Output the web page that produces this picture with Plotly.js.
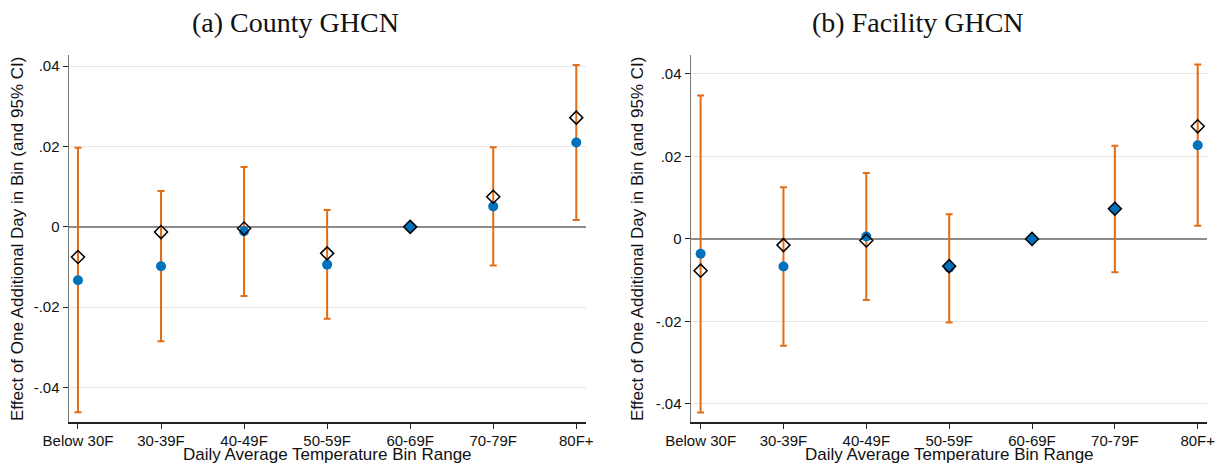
<!DOCTYPE html>
<html>
<head>
<meta charset="utf-8">
<script src="https://cdn.plot.ly/plotly-3.0.1.min.js"></script>
<style>html,body{margin:0;padding:0;background:#fff;}#chart{width:1215px;height:465px;}</style>
</head>
<body>
<div id="chart"></div>
<script>
// Categories
var bins = ["Below 30F", "30-39F", "40-49F", "50-59F", "60-69F", "70-79F", "80F+"];

// Panel (a) County GHCN
var countyPoint   = [-0.0133, -0.0098, -0.0011, -0.0094, 0, 0.0051, 0.0210];
var countyDiamond = [-0.0075, -0.0013, -0.0004, -0.0066, 0, 0.0075, 0.0272];
var countyLower   = [-0.0462, -0.0285, -0.0172, -0.0229, 0, -0.0096, 0.0017];
var countyUpper   = [0.0197, 0.0089, 0.0149, 0.0042, 0, 0.0198, 0.0403];

// Panel (b) Facility GHCN
var facilityPoint   = [-0.0036, -0.0067, 0.0006, -0.0070, 0, 0.0073, 0.0227];
var facilityDiamond = [-0.0077, -0.0015, -0.0004, -0.0066, 0, 0.0073, 0.0273];
var facilityLower   = [-0.0421, -0.0259, -0.0148, -0.0203, 0, -0.0081, 0.0032];
var facilityUpper   = [0.0348, 0.0125, 0.0160, 0.0060, 0, 0.0226, 0.0423];

// Tick labels
var yTickVals = [-0.04, -0.02, 0, 0.02, 0.04];
var yTickText = ["-.04", "-.02", "0", ".02", ".04"];

var BLUE = "rgb(0,114,189)";
var ORANGE = "rgb(226,108,20)";
var xIdx = bins.map(function(_, i){ return i; });

function makeTraces(pt, dia, lo, hi, xa, ya) {
  var plus = pt.map(function(v, i){ return hi[i] - v; });
  var minus = pt.map(function(v, i){ return v - lo[i]; });
  return [
    {
      type: "scatter", mode: "markers", x: xIdx, y: pt, xaxis: xa, yaxis: ya,
      marker: {symbol: "circle", size: 0.1, color: "rgba(0,0,0,0)"},
      error_y: {type: "data", symmetric: false, array: plus, arrayminus: minus,
                color: ORANGE, thickness: 2, width: 3.5},
      hoverinfo: "skip", showlegend: false
    },
    {
      type: "scatter", mode: "markers", x: xIdx, y: pt, xaxis: xa, yaxis: ya,
      marker: {symbol: "circle", size: 10, color: BLUE, line: {width: 0}},
      showlegend: false
    },
    {
      type: "scatter", mode: "markers", x: xIdx, y: dia, xaxis: xa, yaxis: ya,
      marker: {symbol: "diamond", size: 10,
               color: dia.map(function(v, i){ return Math.abs(v - pt[i]) < 0.0005 ? BLUE : "rgba(255,255,255,0)"; }),
               line: {width: 1.5, color: "#000"}},
      showlegend: false
    }
  ];
}

var data = [].concat(
  makeTraces(countyPoint, countyDiamond, countyLower, countyUpper, "x", "y"),
  makeTraces(facilityPoint, facilityDiamond, facilityLower, facilityUpper, "x2", "y2")
);

var tickFont = {family: "Liberation Sans, Arial, sans-serif", size: 15, color: "#111"};
var titleFont = {family: "Liberation Serif, Times New Roman, serif", size: 28, color: "#111"};
var axTitleFont = {family: "Liberation Sans, Arial, sans-serif", size: 17, color: "#111"};

function xAxis(domain, range, anchor) {
  return {
    domain: domain, range: range, anchor: anchor,
    tickvals: xIdx, ticktext: bins, tickfont: tickFont,
    ticks: "outside", ticklen: 5, tickwidth: 1, tickcolor: "#222",
    ticklabeloverflow: "allow", ticklabelstandoff: -1,
    showline: true, linecolor: "#222", linewidth: 1.5,
    showgrid: false, zeroline: false, fixedrange: true
  };
}
function yAxis(domain, range, anchor) {
  return {
    domain: domain, range: range, anchor: anchor,
    tickvals: yTickVals, ticktext: yTickText, tickfont: tickFont,
    ticks: "outside", ticklen: 5, tickwidth: 1, tickcolor: "#222",
    showline: true, linecolor: "#777", linewidth: 1.5,
    showgrid: true, gridcolor: "#e6e6e6", gridwidth: 1,
    zeroline: true, zerolinecolor: "#8c8c8c", zerolinewidth: 1.5,
    fixedrange: true
  };
}

var yDom = [1 - 422/465, 1 - 55/465];
function ann(text, x, y, font, angle, yanchor) {
  return {text: text, xref: "paper", yref: "paper", x: x/1215, y: 1 - y/465,
          xanchor: "center", yanchor: yanchor || "middle", showarrow: false,
          font: font, textangle: angle || 0, borderpad: 0};
}
var yTitle = "Effect of One Additional Day in Bin (and 95% CI)";
var xTitle = "Daily Average Temperature Bin Range";
var layout = {
  width: 1215, height: 465,
  margin: {l: 0, r: 0, t: 0, b: 0, pad: 0},
  paper_bgcolor: "#fff", plot_bgcolor: "#fff",
  showlegend: false,
  xaxis: xAxis([69/1215, 586/1215], [-0.108, 6.117], "y"),
  yaxis: yAxis(yDom, [-0.0486, 0.0428], "x"),
  xaxis2: xAxis([691/1215, 1207/1215], [-0.116, 6.112], "y2"),
  yaxis2: yAxis(yDom, [-0.0444, 0.0446], "x2"),
  annotations: [
    ann("(a) County GHCN", 295, 22, titleFont),
    ann("(b) Facility GHCN", 918, 22, titleFont),
    ann(yTitle, 17, 239, axTitleFont, -90),
    ann(yTitle, 637, 239, axTitleFont, -90),
    ann(xTitle, 327, 465, axTitleFont, 0, "bottom"),
    ann(xTitle, 949, 465, axTitleFont, 0, "bottom")
  ]
};

Plotly.newPlot("chart", data, layout, {staticPlot: true, displayModeBar: false});
</script>
</body>
</html>
